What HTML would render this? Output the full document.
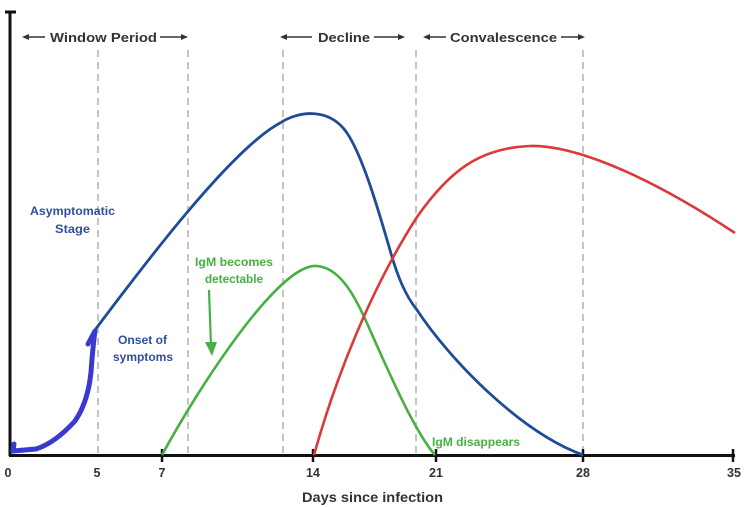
<!DOCTYPE html>
<html>
<head>
<meta charset="utf-8">
<style>
html,body{margin:0;padding:0;background:#fff;}
svg{display:block;}
text{font-family:"Liberation Sans",Arial,sans-serif;font-weight:bold;}
</style>
</head>
<body>
<svg width="746" height="507" viewBox="0 0 746 507" xmlns="http://www.w3.org/2000/svg">
  <rect width="746" height="507" fill="#fff"/>

  <!-- dashed vertical lines -->
  <g stroke="#c4c4c4" stroke-width="2" stroke-dasharray="7,5">
    <line x1="98" y1="50" x2="98" y2="455"/>
    <line x1="188" y1="50" x2="188" y2="455"/>
    <line x1="283" y1="50" x2="283" y2="455"/>
    <line x1="416" y1="50" x2="416" y2="455"/>
    <line x1="583" y1="50" x2="583" y2="455"/>
  </g>

  <!-- header arrows & labels -->
  <g stroke="#333" stroke-width="1.6" fill="#333">
    <line x1="27" y1="37" x2="45" y2="37"/><polygon points="22,37 29,34 29,40" stroke="none"/>
    <line x1="160" y1="37" x2="182" y2="37"/><polygon points="188,37 181,34 181,40" stroke="none"/>
    <line x1="285" y1="37" x2="312" y2="37"/><polygon points="280,37 287,34 287,40" stroke="none"/>
    <line x1="374" y1="37" x2="400" y2="37"/><polygon points="405,37 398,34 398,40" stroke="none"/>
    <line x1="428" y1="37" x2="446" y2="37"/><polygon points="423,37 430,34 430,40" stroke="none"/>
    <line x1="561" y1="37" x2="580" y2="37"/><polygon points="585,37 578,34 578,40" stroke="none"/>
  </g>
  <g fill="#333" font-size="13">
    <text x="50" y="42" textLength="107" lengthAdjust="spacingAndGlyphs">Window Period</text>
    <text x="318" y="42" textLength="52" lengthAdjust="spacingAndGlyphs">Decline</text>
    <text x="450" y="42" textLength="107" lengthAdjust="spacingAndGlyphs">Convalescence</text>
  </g>

  <!-- axes -->
  <g stroke="#111" stroke-width="3" fill="none">
    <line x1="10" y1="11" x2="10" y2="456"/>
    <line x1="5" y1="12" x2="16" y2="12"/>
    <line x1="9" y1="455.5" x2="735" y2="455.5"/>
  </g>
  <g stroke="#111" stroke-width="2.5">
    <line x1="162" y1="449" x2="162" y2="462"/>
    <line x1="313" y1="449" x2="313" y2="462"/>
    <line x1="436" y1="449" x2="436" y2="462"/>
    <line x1="583" y1="449" x2="583" y2="462"/>
    <line x1="733" y1="449" x2="733" y2="462"/>
  </g>
  <g fill="#333" font-size="12.5" text-anchor="middle">
    <text x="8" y="477">0</text>
    <text x="97" y="477">5</text>
    <text x="162" y="477">7</text>
    <text x="313" y="477">14</text>
    <text x="436" y="477">21</text>
    <text x="583" y="477">28</text>
    <text x="734" y="477">35</text>
  </g>
  <text x="302" y="502" fill="#333" font-size="13.5" textLength="141" lengthAdjust="spacingAndGlyphs">Days since infection</text>

  <!-- curves -->
  <path d="M95,330 C140,270 230,150 280,123 C300,110 330,108 347,133 C362,155 377,205 390,250 C397,275 405,295 417,310 C450,360 520,432 583,455"
        fill="none" stroke="#1f4c98" stroke-width="2.8"/>
  <path d="M162,455 C200,385 280,262 317,266 C340,268 355,295 370,330 C390,375 415,432 435,455"
        fill="none" stroke="#46b043" stroke-width="2.6"/>
  <path d="M314,455 C335,380 370,290 417,217 C450,170 480,148 530,146 C570,145 640,170 735,233"
        fill="none" stroke="#dc3a3a" stroke-width="2.6"/>

  <!-- hand-drawn scribble -->
  <path d="M14,444 L13,451 L36,449 Q55,443 75,421 Q88,402 91,372 Q93,345 95,331 L88,344"
        fill="none" stroke="#3a3ad0" stroke-width="5" stroke-linejoin="round" stroke-linecap="round"/>

  <!-- annotations -->
  <g fill="#2f4f9f" font-size="12" text-anchor="start">
    <text x="30" y="215" textLength="85" lengthAdjust="spacingAndGlyphs">Asymptomatic</text>
    <text x="55" y="233" textLength="35" lengthAdjust="spacingAndGlyphs">Stage</text>
    <text x="118" y="344" textLength="49" lengthAdjust="spacingAndGlyphs">Onset of</text>
    <text x="113" y="361" textLength="60" lengthAdjust="spacingAndGlyphs">symptoms</text>
  </g>
  <g fill="#46b043" font-size="12">
    <text x="195" y="266" textLength="78" lengthAdjust="spacingAndGlyphs">IgM becomes</text>
    <text x="205" y="283" textLength="58" lengthAdjust="spacingAndGlyphs">detectable</text>
    <text x="432" y="446" textLength="88" lengthAdjust="spacingAndGlyphs">IgM disappears</text>
  </g>
  <line x1="209" y1="290" x2="211" y2="346" stroke="#46b043" stroke-width="2.2"/>
  <polygon points="205,342 217,342 212,356" fill="#46b043"/>
</svg>
</body>
</html>
